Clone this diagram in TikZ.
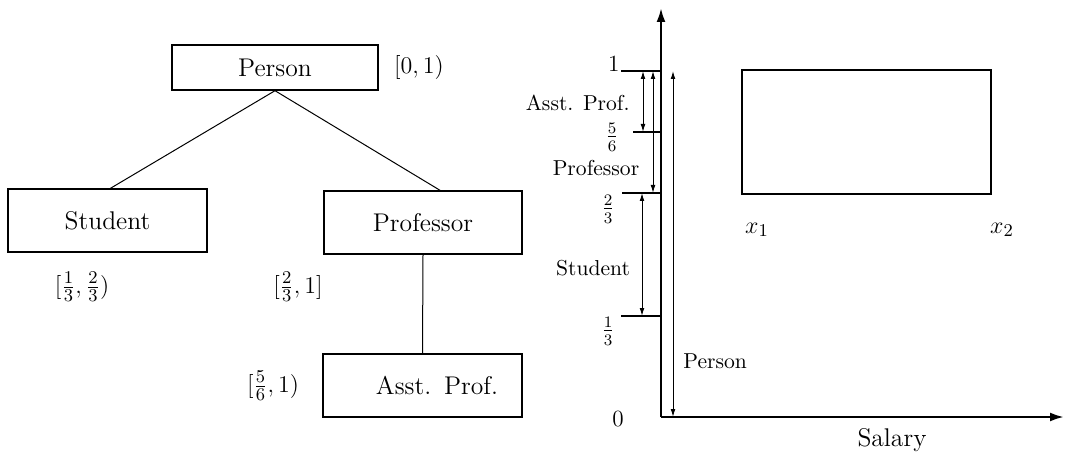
\documentclass[tikz,border=0pt]{standalone}
\usetikzlibrary{arrows.meta}
\begin{document}
\begin{tikzpicture}[x=0.5pt,y=-0.5pt,
  box/.style={draw,line width=0.7pt,rectangle,inner sep=0pt,font=\fontsize{12.8}{15}\selectfont},
  lbl/.style={inner sep=0pt,font=\fontsize{12.8}{15}\selectfont},
  albl/.style={inner sep=0pt,font=\fontsize{10.8}{13}\selectfont},
  num/.style={inner sep=0pt,font=\fontsize{11.6}{14}\selectfont},
  edge/.style={line width=0.5pt},
  axis/.style={line width=1.2pt,-{Latex[length=7pt,width=4.5pt]}},
  tick/.style={line width=0.6pt},
  span/.style={line width=0.5pt,{Latex[length=4pt,width=2.4pt]}-{Latex[length=4pt,width=2.4pt]}}]
\useasboundingbox (0,0) rectangle (1065,454);
% tree
\node[box,minimum width=103pt,minimum height=22.5pt] (person) at (275,67.5) {Person};
\node[box,minimum width=99.5pt,minimum height=31.5pt] (student) at (107.5,220.5) {Student};
\node[box,minimum width=99pt,minimum height=31.5pt] (prof) at (423,222.5) {Professor};
\node[box,minimum width=99.5pt,minimum height=31.5pt,text width=75.5pt,inner xsep=12pt,align=right] (asst) at (422.5,385.5) {Asst. Prof.};
\draw[edge] (person.south) -- ([xshift=1.5pt]student.north);
\draw[edge] (person.south) -- ([xshift=8.5pt]prof.north);
\draw[edge] (prof.south) -- (asst.north);
\node[lbl] (l01) at (419,68) {$[0,1)$};
\node[lbl] (l1323) at (82,287) {$[\frac{1}{3},\frac{2}{3})$};
\node[lbl] (l231) at (298,287) {$[\frac{2}{3},1]$};
\node[lbl] (l561) at (273,386) {$[\frac{5}{6},1)$};
% axes
\coordinate (O) at (661,417);
\coordinate (ytop) at (661,8);
\coordinate (xend) at (1064,417);
\draw[axis] (O) -- (ytop);
\draw[axis] (O) -- (xend);
% ticks
\coordinate (t1a) at (621,71);   \coordinate (t1b) at (662,71);
\coordinate (t56a) at (633,132); \coordinate (t56b) at (662,132);
\coordinate (t23a) at (622,193); \coordinate (t23b) at (662,193);
\coordinate (t13a) at (621,316); \coordinate (t13b) at (662,316);
\draw[tick] (t1a) -- (t1b);
\draw[tick] (t56a) -- (t56b);
\draw[tick] (t23a) -- (t23b);
\draw[tick] (t13a) -- (t13b);
\node[num,anchor=base east] (n1) at (620,72) {1};
\node[num] (n56) at (612,137) {$\frac{5}{6}$};
\node[num] (n23) at (608,209) {$\frac{2}{3}$};
\node[num] (n13) at (608,331) {$\frac{1}{3}$};
\node[num] (n0) at (618,419) {0};
% span arrows
\coordinate (aA) at (643,71);  \coordinate (aB) at (643,132);
\coordinate (pA) at (653,71);  \coordinate (pB) at (653,193);
\coordinate (sA) at (642,193); \coordinate (sB) at (642,316);
\coordinate (qA) at (673,71);  \coordinate (qB) at (673,417);
\draw[span] (aA) -- (aB);
\draw[span] (pA) -- (pB);
\draw[span] (sA) -- (sB);
\draw[span] (qA) -- (qB);
\node[albl,anchor=east] (la) at (630,103) {Asst. Prof.};
\node[albl] (lp) at (596,168) {Professor};
\node[albl] (ls) at (593,268) {Student};
\node[albl,anchor=west] (lq) at (683,361) {Person};
% rectangle
\draw[line width=1pt] (742,70) rectangle (991,194);
\node[lbl] (x1) at (757,230) {$x_1$};
\node[lbl] (x2) at (1002,230) {$x_2$};
\node[lbl] (sal) at (892,440) {Salary};
\end{tikzpicture}
\end{document}
